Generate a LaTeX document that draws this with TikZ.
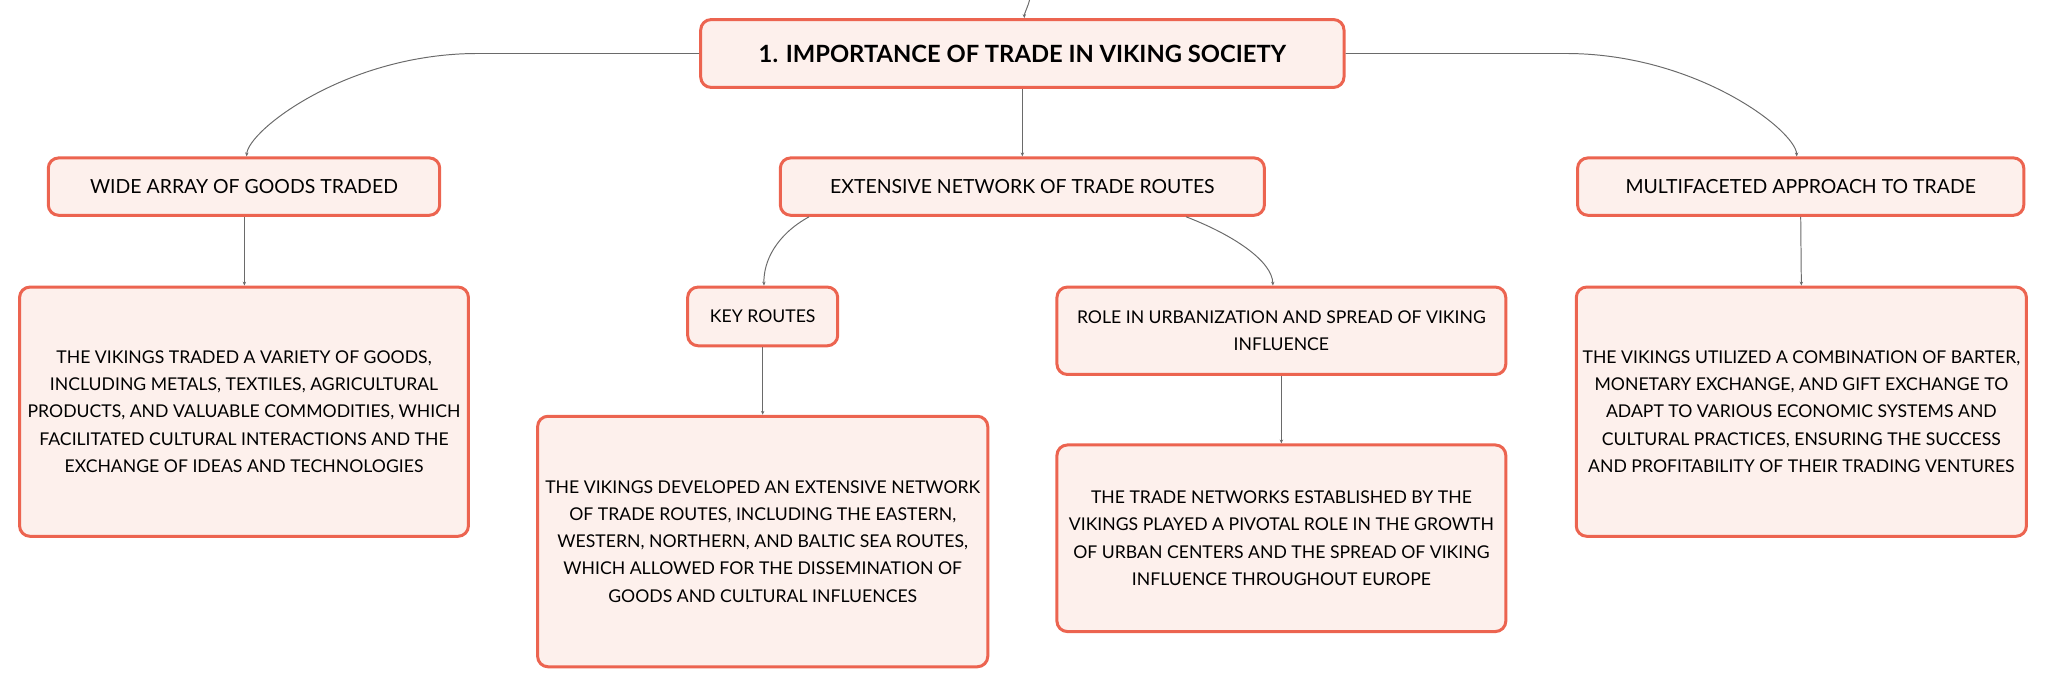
\documentclass[tikz,border=0pt]{standalone}
\usepackage{fontspec}
\setmainfont{Lato}
\usetikzlibrary{arrows.meta}
\definecolor{boxborder}{HTML}{EC6450}
\definecolor{boxfill}{HTML}{FDF0EC}
\definecolor{linkgray}{HTML}{6A6A6A}
\begin{document}
\begin{tikzpicture}[x=1pt,y=-1pt,
  box/.style={draw=boxborder,fill=boxfill,line width=2.3pt,rounded corners=8pt,
    align=center,inner sep=0pt,text=black},
  headfont/.style={font=\fontsize{14.9}{21.5}\selectfont},
  bodyfont/.style={font=\fontsize{13.5}{20.8}\selectfont},
  link/.style={draw=linkgray,line width=0.75pt,-{Stealth[length=3pt,width=2.6pt]}}]
\useasboundingbox (0,0) rectangle (1568,527);
% nodes
\node[box,minimum width=493pt,minimum height=52pt,font=\fontsize{18.2}{23}\selectfont\bfseries] (root) at (783.5,41) {1. IMPORTANCE OF TRADE IN VIKING SOCIETY};
\node[box,headfont,minimum width=300pt,minimum height=44pt] (wide) at (187,143) {WIDE ARRAY OF GOODS TRADED};
\node[box,headfont,minimum width=371pt,minimum height=44pt] (ext) at (783.5,143) {EXTENSIVE NETWORK OF TRADE ROUTES};
\node[box,headfont,minimum width=342pt,minimum height=44pt] (multi) at (1380,143) {MULTIFACETED APPROACH TO TRADE};
\node[box,bodyfont,minimum width=344pt,minimum height=191pt] (wdesc) at (187,315.5) {THE VIKINGS TRADED A VARIETY OF GOODS,\\INCLUDING METALS, TEXTILES, AGRICULTURAL\\PRODUCTS, AND VALUABLE COMMODITIES, WHICH\\FACILITATED CULTURAL INTERACTIONS AND THE\\EXCHANGE OF IDEAS AND TECHNOLOGIES};
\node[box,bodyfont,minimum width=115pt,minimum height=45pt] (key) at (584.5,242.5) {KEY ROUTES};
\node[box,bodyfont,minimum width=344pt,minimum height=67pt] (role) at (982,253.5) {ROLE IN URBANIZATION AND SPREAD OF VIKING\\INFLUENCE};
\node[box,bodyfont,minimum width=345pt,minimum height=192pt] (kdesc) at (584.5,415) {THE VIKINGS DEVELOPED AN EXTENSIVE NETWORK\\OF TRADE ROUTES, INCLUDING THE EASTERN,\\WESTERN, NORTHERN, AND BALTIC SEA ROUTES,\\WHICH ALLOWED FOR THE DISSEMINATION OF\\GOODS AND CULTURAL INFLUENCES};
\node[box,bodyfont,minimum width=344pt,minimum height=143pt] (rdesc) at (982,412.5) {THE TRADE NETWORKS ESTABLISHED BY THE\\VIKINGS PLAYED A PIVOTAL ROLE IN THE GROWTH\\OF URBAN CENTERS AND THE SPREAD OF VIKING\\INFLUENCE THROUGHOUT EUROPE};
\node[box,bodyfont,minimum width=345pt,minimum height=191pt] (mdesc) at (1380.5,315.5) {THE VIKINGS UTILIZED A COMBINATION OF BARTER,\\MONETARY EXCHANGE, AND GIFT EXCHANGE TO\\ADAPT TO VARIOUS ECONOMIC SYSTEMS AND\\CULTURAL PRACTICES, ENSURING THE SUCCESS\\AND PROFITABILITY OF THEIR TRADING VENTURES};
% connectors
\coordinate (top) at (789,0);
\draw[link] (top) .. controls (787.5,6) and (785,10) .. ([xshift=1.5pt]root.north);
\draw[link] (root.west) -- (366,41) .. controls (266,41) and (190,100) .. ([xshift=2pt]wide.north);
\draw[link] (root.east) -- (1200,41) .. controls (1300,41) and (1376,100) .. ([xshift=-3pt]multi.north);
\draw[link] (root.south) -- (ext.north);
\draw[link] ([xshift=-163.5pt]ext.south) .. controls (595,180) and (585,200) .. ([xshift=1pt]key.north);
\draw[link] ([xshift=125.5pt]ext.south) .. controls (945,180) and (975,200) .. ([xshift=-6.5pt]role.north);
\draw[link] ([xshift=0.3pt]wide.south) -- ([xshift=0.3pt]wdesc.north);
\draw[link] (key.south) -- (kdesc.north);
\draw[link] (role.south) -- (rdesc.north);
\draw[link] (multi.south) -- (mdesc.north);
\end{tikzpicture}
\end{document}
